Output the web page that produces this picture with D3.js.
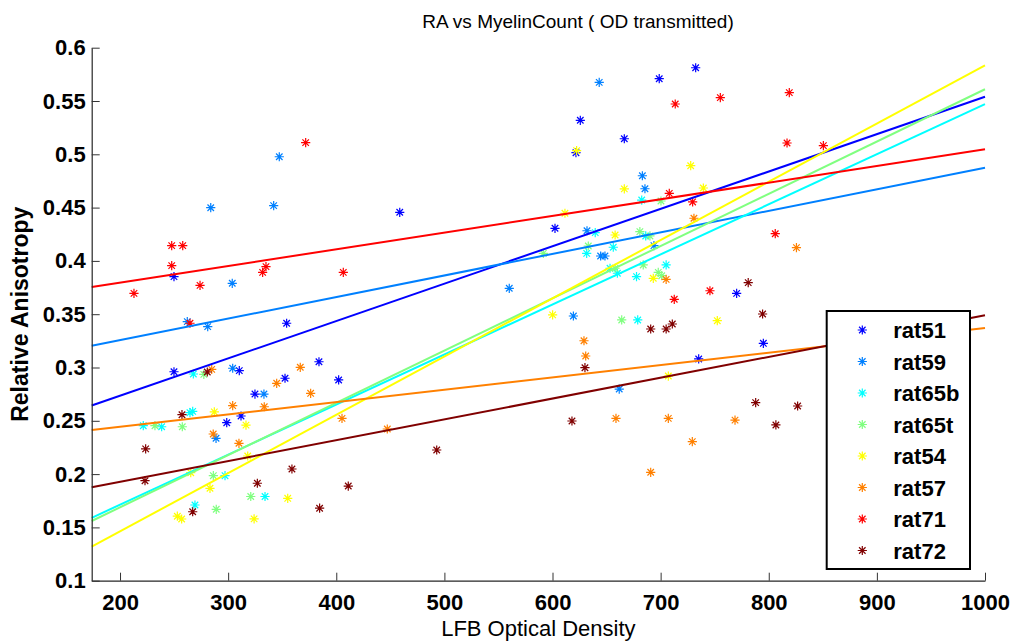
<!DOCTYPE html>
<html>
<head>
<meta charset="utf-8">
<script src="https://cdn.jsdelivr.net/npm/d3@7"></script>
<style>
  html, body { margin: 0; padding: 0; background: #fff; }
  svg { display: block; font-family: "Liberation Sans", Arial, sans-serif; }
</style>
</head>
<body>
<svg id="chart" width="1016" height="643"></svg>
<script>
// Series names and jet-style colours
const seriesNames = ["rat51", "rat59", "rat65b", "rat65t", "rat54", "rat57", "rat71", "rat72"];
const seriesColors = ["#0000ff", "#0080ff", "#00ffff", "#80ff80", "#ffff00", "#ff8000", "#ff0000", "#800000"];

// Measurements per series: [LFB optical density, relative anisotropy]
const rat51 = [[458.7,0.4456],[249.9,0.3852],[354.1,0.3415],[249.9,0.296],[310.3,0.297],[384,0.3054],[352.6,0.2899],[402.2,0.2883],[324.8,0.2751],[311.9,0.2545],[298.7,0.2482],[625.7,0.5319],[666.4,0.5146],[621.7,0.5015],[602.3,0.4306],[698.7,0.5709],[732.4,0.5812],[770.3,0.3696],[795,0.3227],[735.2,0.308]];
const rat59 = [[347.3,0.4977],[283.9,0.4499],[342.1,0.4518],[303.8,0.379],[262.2,0.343],[281.1,0.3383],[304.2,0.2993],[333.1,0.2751],[288.8,0.2336],[643.2,0.5675],[683.1,0.4799],[685.5,0.4677],[631.9,0.4283],[693.8,0.4143],[644.5,0.4046],[648.5,0.4046],[560,0.3743],[619.3,0.3483],[661.7,0.2798]];
const rat65b = [[267.8,0.2939],[264.7,0.2576],[267.2,0.2589],[221.5,0.2454],[238.5,0.2444],[297.1,0.1985],[334.1,0.179],[269.3,0.171],[639.5,0.4265],[686.2,0.4234],[656.2,0.4128],[631.6,0.4071],[682.5,0.4571],[653.2,0.3931],[660,0.3884],[705.1,0.3962],[677.7,0.3852],[678.8,0.3446]];
const rat65t = [[277.5,0.2935],[232.3,0.2454],[257.6,0.2444],[286.3,0.1985],[320.9,0.179],[289,0.167],[700.3,0.4562],[680.8,0.4274],[690.1,0.4234],[633.1,0.414],[591.5,0.4071],[683.9,0.3962],[697.8,0.3893],[701,0.3861],[664,0.3446],[657.9,0.3931]];
const rat54 = [[622.3,0.5034],[666.4,0.4675],[611.5,0.4447],[657.9,0.4243],[693.2,0.3837],[600.1,0.3493],[707.1,0.292],[727.8,0.4893],[739.5,0.4684],[752.4,0.3439],[287.2,0.2583],[316.5,0.246],[318.1,0.217],[265.4,0.2013],[283.2,0.1867],[355.1,0.1773],[257,0.1579],[253,0.1605],[324,0.158]];
const rat57 = [[284.8,0.2983],[366.7,0.3002],[344.9,0.2852],[376.3,0.2758],[304.2,0.2642],[333.4,0.2632],[405.3,0.2523],[447.2,0.2423],[286.2,0.2376],[310,0.2289],[629.1,0.3251],[630.7,0.3108],[705.1,0.3827],[730.8,0.44],[825.6,0.4124],[658.7,0.2523],[707.1,0.2523],[690.8,0.2017],[768.8,0.2507],[729.3,0.2304]];
const rat71 = [[371.7,0.511],[247.8,0.4143],[258,0.4143],[247.8,0.3955],[212.9,0.3696],[274,0.3771],[331.9,0.3893],[335,0.3946],[406.5,0.3893],[264.7,0.3415],[713.5,0.5472],[708,0.4634],[712.6,0.364],[755.2,0.5531],[819,0.5578],[816.9,0.5106],[850.5,0.5081],[729.6,0.4553],[806,0.4255],[745.6,0.372]];
const rat72 = [[280.7,0.2958],[257.3,0.2557],[223.7,0.2236],[223.1,0.1938],[359,0.2048],[327,0.1914],[411.1,0.1888],[267.2,0.1647],[492.9,0.2226],[690.8,0.3361],[705.1,0.3361],[710.8,0.3408],[630,0.2998],[618,0.2498],[781,0.3796],[794.3,0.3502],[787.9,0.267],[826.7,0.2639],[806.6,0.2461],[384.6,0.168]];
const seriesPoints = [rat51, rat59, rat65b, rat65t, rat54, rat57, rat71, rat72];

// Linear fits: anisotropy at the left and right ends of the x range
const fitAtLeft  = [0.2643, 0.3204, 0.159, 0.156, 0.132, 0.2414, 0.3755, 0.1876];
const fitAtRight = [0.554, 0.4874, 0.547, 0.561, 0.5835, 0.337, 0.5047, 0.349];

// Axis ranges and ticks
const xDomain = [173.8, 1000];
const yDomain = [0.1, 0.6];
const xTicks = [200, 300, 400, 500, 600, 700, 800, 900, 1000];
const yTicks = [0.1, 0.15, 0.2, 0.25, 0.3, 0.35, 0.4, 0.45, 0.5, 0.55, 0.6];
const yTickLabels = ["0.1", "0.15", "0.2", "0.25", "0.3", "0.35", "0.4", "0.45", "0.5", "0.55", "0.6"];

const titleText = "RA vs MyelinCount ( OD transmitted)";
const xLabelText = "LFB Optical Density";
const yLabelText = "Relative Anisotropy";

const svg = d3.select("#chart");
const plot = { left: 91.7, right: 985, top: 47.7, bottom: 580.7 };

const x = d3.scaleLinear().domain(xDomain).range([plot.left, plot.right]);
const y = d3.scaleLinear().domain(yDomain).range([plot.bottom, plot.top]);

// Asterisk marker: plus sign overlaid with a cross
function asterisk(r) {
  const d = r * Math.SQRT1_2;
  return `M${-r},0L${r},0M0,${-r}L0,${r}M${-d},${-d}L${d},${d}M${-d},${d}L${d},${-d}`;
}
const markerPath = asterisk(4.6);

// Scatter points
seriesPoints.forEach((pts, i) => {
  svg.append("g")
    .selectAll("path")
    .data(pts)
    .join("path")
    .attr("d", markerPath)
    .attr("transform", d => `translate(${x(d[0])},${y(d[1])})`)
    .attr("fill", "none")
    .attr("stroke", seriesColors[i])
    .attr("stroke-width", 1.2);
});

// Fit lines
const lineGen = d3.line().x(d => x(d[0])).y(d => y(d[1]));
fitAtLeft.forEach((v, i) => {
  svg.append("path")
    .attr("d", lineGen([[xDomain[0], v], [xDomain[1], fitAtRight[i]]]))
    .attr("fill", "none")
    .attr("stroke", seriesColors[i])
    .attr("stroke-width", 2);
});

// Axes (left and bottom only, ticks pointing inwards)
const xAxis = d3.axisBottom(x).tickValues(xTicks).tickSizeInner(-8).tickSizeOuter(0).tickPadding(14).tickFormat(d3.format("d"));
const yAxis = d3.axisLeft(y).tickValues(yTicks).tickSizeInner(-8).tickSizeOuter(0).tickPadding(6)
  .tickFormat((d, i) => yTickLabels[i]);

const gx = svg.append("g").attr("transform", `translate(0,${plot.bottom})`).call(xAxis);
const gy = svg.append("g").attr("transform", `translate(${plot.left},0)`).call(yAxis);
[gx, gy].forEach(g => {
  g.select(".domain").attr("stroke", "#262626").attr("stroke-width", 1.2);
  g.selectAll(".tick line").attr("stroke", "#333").attr("stroke-width", 1);
  g.selectAll(".tick text")
    .attr("font-family", "Liberation Sans, Arial, sans-serif")
    .attr("font-size", 22)
    .attr("font-weight", "bold")
    .attr("fill", "#000");
});
gy.selectAll(".tick text").attr("x", -6);

// Title and axis labels
svg.append("text")
  .attr("x", 578)
  .attr("y", 28)
  .attr("text-anchor", "middle")
  .attr("font-size", 19)
  .attr("fill", "#000")
  .text(titleText);

svg.append("text")
  .attr("x", (plot.left + plot.right) / 2)
  .attr("y", 636)
  .attr("text-anchor", "middle")
  .attr("font-size", 22)
  .attr("fill", "#000")
  .text(xLabelText);

svg.append("text")
  .attr("transform", `translate(28,${(plot.top + plot.bottom) / 2}) rotate(-90)`)
  .attr("text-anchor", "middle")
  .attr("font-size", 23)
  .attr("font-weight", "bold")
  .attr("fill", "#000")
  .text(yLabelText);

// Legend
const legend = { x: 826.7, y: 311, w: 143.3, h: 258, rowTop: 330, rowStep: 31.5 };
const lg = svg.append("g");
lg.append("rect")
  .attr("x", legend.x).attr("y", legend.y)
  .attr("width", legend.w).attr("height", legend.h)
  .attr("fill", "#fff").attr("stroke", "#000").attr("stroke-width", 2);
seriesNames.forEach((name, i) => {
  const cy = legend.rowTop + i * legend.rowStep;
  lg.append("path")
    .attr("d", markerPath)
    .attr("transform", `translate(862.3,${cy})`)
    .attr("fill", "none")
    .attr("stroke", seriesColors[i])
    .attr("stroke-width", 1.2);
  lg.append("text")
    .attr("x", 893.3)
    .attr("y", cy + 8)
    .attr("font-size", 22)
    .attr("font-weight", "bold")
    .attr("fill", "#000")
    .text(name);
});
</script>
</body>
</html>
